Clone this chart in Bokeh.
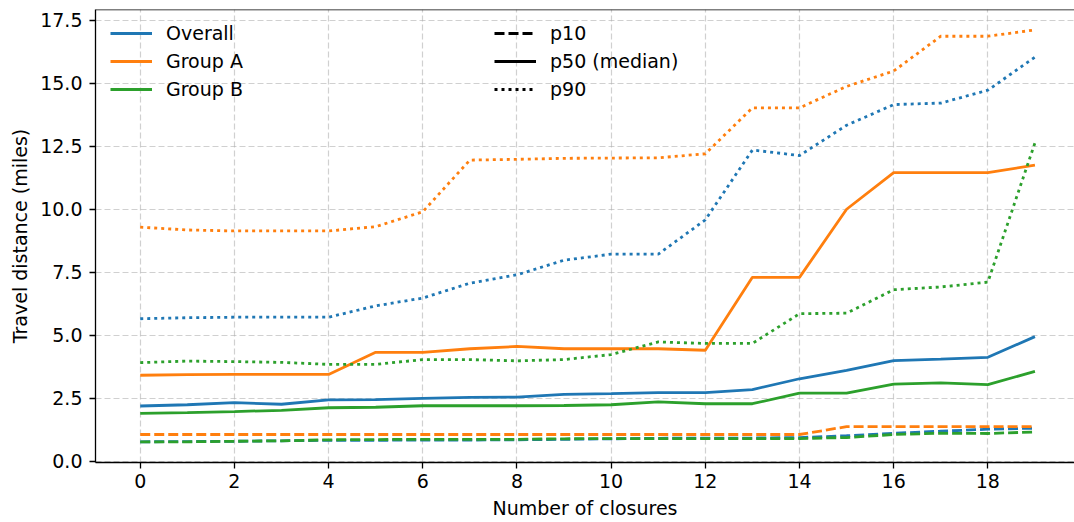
import numpy as np
from bokeh.plotting import figure
from bokeh.models import (Range1d, FixedTicker, Legend, LegendItem, Span,
                          PrintfTickFormatter)
from bokeh.embed import file_html
from bokeh.resources import INLINE

closures = list(range(20))

overall_p10 = [0.78, 0.79, 0.80, 0.82, 0.84, 0.84, 0.85, 0.85, 0.86, 0.88,
               0.90, 0.92, 0.93, 0.93, 0.95, 1.02, 1.12, 1.20, 1.28, 1.32]
overall_p50 = [2.20, 2.25, 2.33, 2.27, 2.44, 2.45, 2.50, 2.54, 2.55, 2.66,
               2.69, 2.73, 2.73, 2.85, 3.28, 3.61, 4.00, 4.06, 4.13, 4.95]
overall_p90 = [5.66, 5.70, 5.72, 5.72, 5.72, 6.17, 6.48, 7.07, 7.40, 7.98,
               8.22, 8.22, 9.58, 12.35, 12.13, 13.33, 14.15, 14.21, 14.72, 16.03]

groupA_p10 = [1.07, 1.07, 1.07, 1.07, 1.07, 1.07, 1.07, 1.07, 1.07, 1.07,
              1.07, 1.07, 1.07, 1.07, 1.07, 1.38, 1.38, 1.38, 1.38, 1.38]
groupA_p50 = [3.42, 3.44, 3.45, 3.45, 3.45, 4.33, 4.33, 4.47, 4.56, 4.47,
              4.47, 4.47, 4.41, 7.30, 7.30, 10.00, 11.45, 11.45, 11.45, 11.75]
groupA_p90 = [9.29, 9.18, 9.14, 9.14, 9.14, 9.31, 9.90, 11.95, 11.98, 12.02,
              12.03, 12.04, 12.20, 14.02, 14.02, 14.87, 15.48, 16.86, 16.86, 17.11]

groupB_p10 = [0.78, 0.78, 0.80, 0.82, 0.86, 0.87, 0.88, 0.88, 0.88, 0.90,
              0.91, 0.91, 0.91, 0.91, 0.91, 0.95, 1.07, 1.12, 1.11, 1.17]
groupB_p50 = [1.91, 1.94, 1.98, 2.03, 2.13, 2.15, 2.21, 2.21, 2.21, 2.22,
              2.25, 2.36, 2.29, 2.29, 2.71, 2.71, 3.07, 3.12, 3.05, 3.57]
groupB_p90 = [3.92, 3.98, 3.96, 3.93, 3.85, 3.85, 4.04, 4.04, 3.99, 4.04,
              4.24, 4.74, 4.68, 4.68, 5.86, 5.88, 6.81, 6.92, 7.11, 12.63]

group_names = ["Overall", "Group A", "Group B"]
group_colors = ["#1f77b4", "#ff7f0e", "#2ca02c"]
pct_names = ["p10", "p50 (median)", "p90"]
x_ticks = [0, 2, 4, 6, 8, 10, 12, 14, 16, 18]
y_ticks = [0.0, 2.5, 5.0, 7.5, 10.0, 12.5, 15.0, 17.5]

series = {
    "Overall": [overall_p10, overall_p50, overall_p90],
    "Group A": [groupA_p10, groupA_p50, groupA_p90],
    "Group B": [groupB_p10, groupB_p50, groupB_p90],
}

FONT = "DejaVu Sans"
FS = "19px"
LW = 2.8
dashes = ["10 4", "solid", "3 4"]

p = figure(width=1074, height=522, output_backend="svg", toolbar_location=None,
           x_range=Range1d(-0.95, 19.84), y_range=Range1d(-0.04, 17.92),
           min_border_left=95, min_border_right=0, min_border_top=9,
           min_border_bottom=60)
p.outline_line_color = None
p.background_fill_color = "white"

for g, c in zip(group_names, group_colors):
    for vals, d in zip(series[g], dashes):
        p.line(closures, vals, line_color=c, line_width=LW, line_dash=d)

# legends
nan = [np.nan]
color_items = []
for g, c in zip(group_names, group_colors):
    r = p.line(nan, nan, line_color=c, line_width=LW)
    color_items.append(LegendItem(label=g, renderers=[r]))
style_items = []
for name, d in zip(pct_names, dashes):
    r = p.line(nan, nan, line_color="black", line_width=LW, line_dash=d)
    style_items.append(LegendItem(label=name, renderers=[r]))

def make_legend(items, loc):
    lg = Legend(items=items, location=loc)
    lg.background_fill_alpha = 0
    lg.border_line_alpha = 0
    lg.padding = 0
    lg.margin = 0
    lg.spacing = 6
    lg.glyph_width = 42
    lg.glyph_height = 20
    lg.label_height = 20
    lg.label_standoff = 14
    lg.label_text_font = FONT
    lg.label_text_font_size = FS
    lg.label_text_color = "black"
    return lg

p.add_layout(make_legend(color_items, (15, 362)), "center")
p.add_layout(make_legend(style_items, (399, 362)), "center")

# grid
for grid in (p.xgrid, p.ygrid):
    grid.grid_line_color = "#b0b0b0"
    grid.grid_line_alpha = 0.6
    grid.grid_line_width = 1.2
    grid.grid_line_dash = "6 3"
p.xgrid.ticker = FixedTicker(ticks=x_ticks)
p.ygrid.ticker = FixedTicker(ticks=y_ticks)

# axes
p.xaxis.ticker = FixedTicker(ticks=x_ticks)
p.yaxis.ticker = FixedTicker(ticks=y_ticks)
p.yaxis.formatter = PrintfTickFormatter(format="%.1f")
for ax in (p.xaxis, p.yaxis):
    ax.axis_line_color = "black"
    ax.axis_line_width = 1.3
    ax.major_tick_line_color = "black"
    ax.major_tick_line_width = 1.3
    ax.major_tick_out = 6
    ax.major_tick_in = 0
    ax.minor_tick_line_color = None
    ax.major_label_text_font = FONT
    ax.major_label_text_font_size = FS
    ax.major_label_text_color = "black"
    ax.axis_label_text_font = FONT
    ax.axis_label_text_font_size = FS
    ax.axis_label_text_font_style = "normal"
    ax.axis_label_text_color = "black"
p.xaxis.axis_label = "Number of closures"
p.yaxis.axis_label = "Travel distance (miles)"
p.xaxis.major_label_standoff = 5
p.yaxis.major_label_standoff = 7
p.xaxis.axis_label_standoff = 6
p.yaxis.axis_label_standoff = 6

top = Span(location=17.92, dimension="width", line_color="black", line_width=1.3)
p.add_layout(top)

open("out.html", "w").write(file_html(p, INLINE))
